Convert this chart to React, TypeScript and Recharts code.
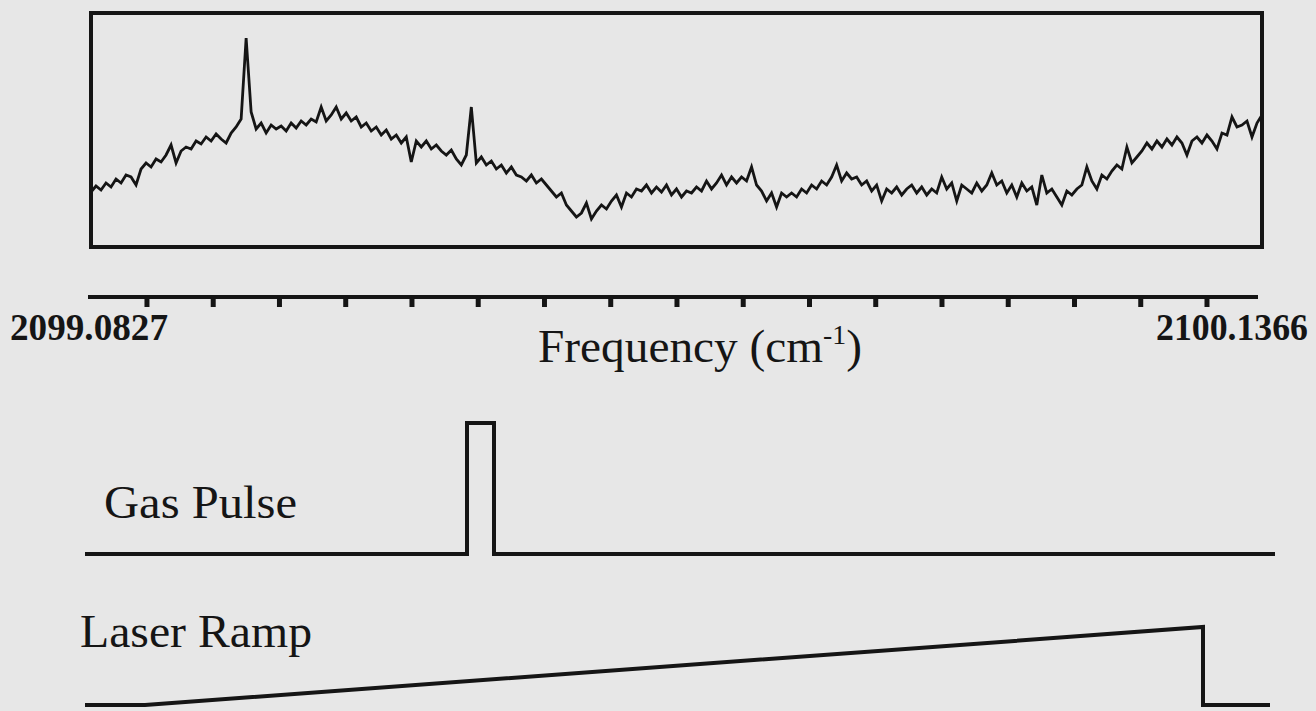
import { Line, LineChart, ReferenceArea, XAxis, YAxis } from "recharts";

// spectrum trace, height above the bottom of the box, one sample every ~5px
const spectrum = [
    55, 61, 57, 64, 60, 68, 64, 72, 70, 62,
    78, 84, 80, 88, 85, 92, 102, 84, 96, 100,
    98, 106, 103, 110, 106, 113, 108, 104, 114, 120,
    128, 209, 135, 118, 124, 114, 122, 118, 121, 116,
    124, 119, 126, 122, 128, 125, 140, 126, 132, 140,
    128, 134, 126, 130, 120, 124, 116, 120, 112, 117,
    108, 112, 104, 110, 85, 106, 100, 106, 98, 102,
    96, 92, 97, 88, 82, 92, 140, 84, 90, 82,
    86, 78, 82, 74, 80, 72, 70, 66, 72, 64,
    68, 62, 56, 50, 54, 42, 36, 30, 34, 44,
    28, 36, 42, 38, 46, 52, 40, 54, 50, 58,
    56, 62, 54, 60, 55, 62, 52, 58, 50, 56,
    54, 60, 56, 66, 58, 64, 72, 62, 70, 64,
    70, 66, 80, 62, 56, 46, 54, 40, 54, 50,
    54, 50, 58, 54, 62, 58, 66, 62, 70, 82,
    66, 74, 68, 70, 62, 66, 56, 62, 46, 58,
    54, 60, 52, 58, 62, 54, 60, 52, 58, 54,
    70, 58, 64, 46, 62, 58, 54, 64, 56, 62,
    74, 62, 66, 54, 62, 50, 64, 56, 60, 42,
    72, 54, 58, 50, 42, 56, 52, 58, 62, 80,
    66, 58, 72, 68, 76, 82, 78, 100, 84, 90,
    96, 104, 98, 106, 100, 108, 102, 110, 104, 92,
    106, 110, 104, 112, 106, 98, 114, 112, 130, 120,
    122, 126, 110, 124, 132,
];

const freqStart = "2099.0827";
const freqEnd = "2100.1366";
const axisTicks = [0, 1, 2, 3, 4, 5, 6, 7, 8, 9, 10, 11, 12, 13, 14, 15, 16];
const axisDomain: [number, number] = [-0.89, 16.77];

const gasTime = [0, 382, 382, 409, 409, 1190];
const gasLevel = [0, 0, 1, 1, 0, 0];
const rampTime = [0, 60, 1118, 1118, 1185];
const rampLevel = [0, 0, 1, 0, 0];

const ink = "#151515";
const serif = "'Liberation Serif', 'Times New Roman', serif";

const specData = spectrum.map((v, i) => ({ i, v }));
const tickData = axisTicks.map((t) => ({ t }));
const gasData = gasTime.map((t, k) => ({ t, g: gasLevel[k] }));
const rampData = rampTime.map((t, k) => ({ t, r: rampLevel[k] }));

// tick marks only, no numbers under them
const BlankTick = () => <g />;

export default function App() {
    return (
        <div
            style={{
                position: "relative",
                width: 1316,
                height: 711,
                overflow: "hidden",
                background: "#e7e7e7",
            }}
        >
            <style>{"body{margin:0;overflow:hidden}"}</style>

            <div style={{ position: "absolute", left: 0, top: 0 }}>
                <LineChart
                    width={1316}
                    height={260}
                    data={specData}
                    margin={{ top: 13, right: 54, left: 91, bottom: 13 }}
                >
                    <XAxis dataKey="i" type="number" domain={[0, 234]} hide />
                    <YAxis type="number" domain={[0, 234]} hide />
                    <ReferenceArea
                        x1={0}
                        x2={234}
                        y1={0}
                        y2={234}
                        fill="none"
                        stroke={ink}
                        strokeWidth={4}
                        ifOverflow="visible"
                    />
                    <Line
                        dataKey="v"
                        type="linear"
                        stroke={ink}
                        strokeWidth={2.8}
                        dot={false}
                        isAnimationActive={false}
                    />
                </LineChart>
            </div>

            <div style={{ position: "absolute", left: 0, top: 257 }}>
                <LineChart
                    width={1316}
                    height={80}
                    data={tickData}
                    margin={{ top: 0, right: 58, left: 88, bottom: 0 }}
                >
                    <XAxis
                        dataKey="t"
                        type="number"
                        domain={axisDomain}
                        ticks={axisTicks}
                        allowDataOverflow
                        tick={BlankTick}
                        tickSize={10}
                        height={40}
                        axisLine={{ stroke: ink, strokeWidth: 4 }}
                        tickLine={{ stroke: ink, strokeWidth: 5 }}
                    />
                    <YAxis hide />
                </LineChart>
            </div>

            <div style={{ position: "absolute", left: 0, top: 413 }}>
                <LineChart
                    width={1316}
                    height={151}
                    data={gasData}
                    margin={{ top: 10, right: 41, left: 85, bottom: 10 }}
                >
                    <XAxis dataKey="t" type="number" domain={[0, 1190]} hide />
                    <YAxis type="number" domain={[0, 1]} hide />
                    <Line
                        dataKey="g"
                        type="linear"
                        stroke={ink}
                        strokeWidth={4}
                        dot={false}
                        isAnimationActive={false}
                    />
                </LineChart>
            </div>

            <div style={{ position: "absolute", left: 0, top: 620 }}>
                <LineChart
                    width={1316}
                    height={92}
                    data={rampData}
                    margin={{ top: 7, right: 41, left: 85, bottom: 7 }}
                >
                    <XAxis dataKey="t" type="number" domain={[0, 1190]} hide />
                    <YAxis type="number" domain={[0, 1]} hide />
                    <Line
                        dataKey="r"
                        type="linear"
                        stroke={ink}
                        strokeWidth={4}
                        dot={false}
                        isAnimationActive={false}
                    />
                </LineChart>
            </div>

            <svg
                width={1316}
                height={711}
                style={{ position: "absolute", left: 0, top: 0, pointerEvents: "none" }}
                fontFamily={serif}
                fill={ink}
            >
                <text x={10} y={340} fontSize={38} fontWeight="bold" textLength={158} lengthAdjust="spacingAndGlyphs">
                    {freqStart}
                </text>
                <text x={1156} y={340} fontSize={38} fontWeight="bold" textLength={152} lengthAdjust="spacingAndGlyphs">
                    {freqEnd}
                </text>
                <text x={538} y={362} fontSize={46} textLength={324} lengthAdjust="spacingAndGlyphs">
                    Frequency (cm
                    <tspan fontSize={27} dy={-18}>-1</tspan>
                    <tspan dy={18}>)</tspan>
                </text>
                <text x={104} y={518} fontSize={46} textLength={193} lengthAdjust="spacingAndGlyphs">
                    Gas Pulse
                </text>
                <text x={80} y={647} fontSize={46} textLength={232} lengthAdjust="spacingAndGlyphs">
                    Laser Ramp
                </text>
            </svg>
        </div>
    );
}
